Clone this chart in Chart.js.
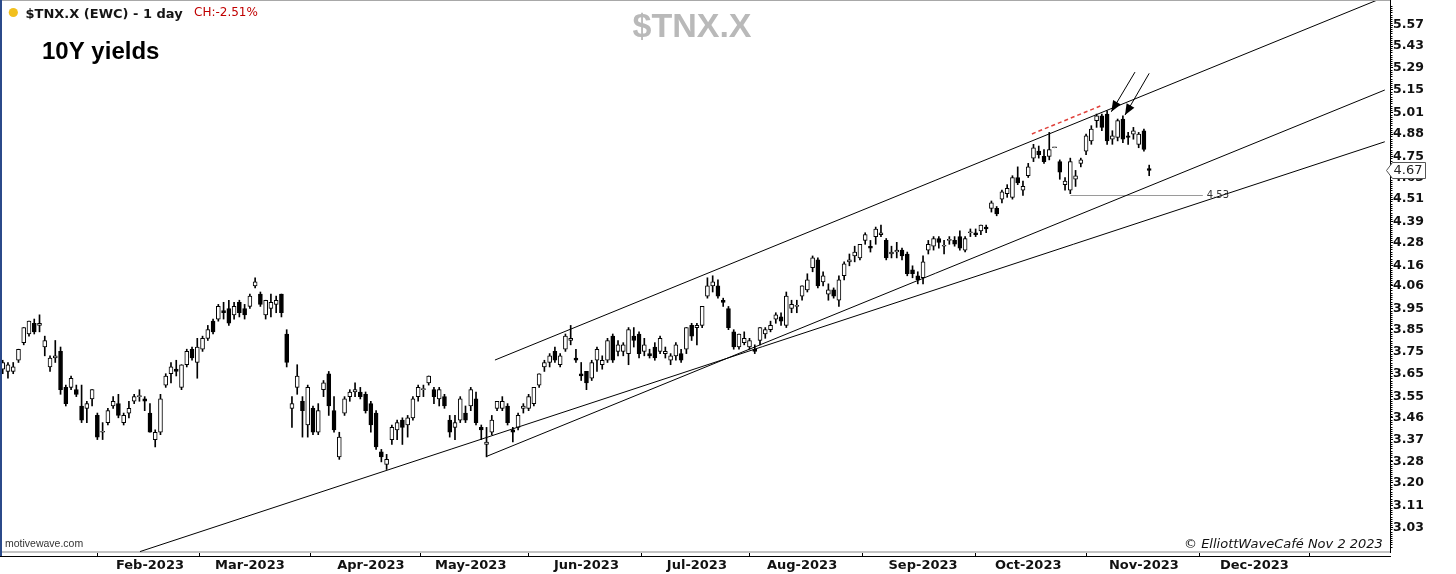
<!DOCTYPE html>
<html><head><meta charset="utf-8">
<script src="https://cdn.jsdelivr.net/npm/chart.js@4.4.1/dist/chart.umd.min.js"></script>
<style>html,body{margin:0;padding:0;background:#fff;overflow:hidden}#wrap{width:1456px;height:574px;position:relative}</style>
</head><body><div id="wrap"><canvas id="c" width="1456" height="574"></canvas></div>
<script>
// Daily $TNX.X candles, trading days from 2022-12-20 to 2023-11-02 (x = trading-day index)
const opens = [
3.67,3.66,3.66,3.71,3.79,3.83,3.88,3.87,
3.77,3.68,3.72,3.75,3.59,3.59,3.58,3.51,3.50,3.54,3.47,3.40,3.44,3.51,3.52,3.44,3.48,3.53,3.55,3.54,
3.48,3.37,3.40,3.60,3.65,3.67,3.59,3.69,3.76,3.70,3.76,3.81,3.89,3.90,3.94,3.95,3.92,3.98,3.95,
3.96,4.06,4.02,3.92,3.95,3.97,4.02,3.83,3.50,3.59,3.53,3.43,3.50,3.40,3.58,3.65,3.49,3.30,3.48,3.55,3.57,3.57,3.56,
3.52,3.48,3.32,3.27,3.37,3.41,3.45,3.43,3.46,3.55,3.58,3.61,3.58,3.54,3.55,3.45,3.42,3.45,3.48,
3.51,3.54,3.42,3.35,3.40,3.50,3.50,3.51,3.41,3.42,3.50,3.50,3.52,3.60,3.68,3.70,3.75,3.69,3.76,3.80,3.72,3.65,
3.66,3.63,3.71,3.69,3.71,3.82,3.75,3.75,3.74,3.82,3.83,3.75,3.74,3.77,3.75,3.74,3.71,3.73,3.74,3.76,3.87,
3.86,3.87,4.01,4.06,4.06,3.99,3.95,3.84,3.77,3.79,3.77,3.76,3.80,3.83,3.85,3.90,3.91,3.87,3.95,3.96,
4.01,4.04,4.15,4.19,4.08,4.02,4.04,3.99,4.11,4.18,4.21,4.20,4.29,4.26,4.31,4.32,4.29,4.22,4.23,4.24,4.22,4.14,4.11,
4.10,4.24,4.26,4.30,4.26,4.29,4.29,4.31,4.24,4.33,4.33,4.34,4.36,4.46,4.46,4.51,4.54,4.52,4.63,4.56,
4.64,4.74,4.78,4.75,4.75,4.80,4.72,4.59,4.56,4.62,4.71,4.78,4.84,4.96,4.99,5.00,4.85,4.86,4.97,4.87,4.88,4.82,
4.90,4.68];
const highs = [
3.71,3.70,3.70,3.76,3.86,3.89,3.90,3.92,
3.82,3.73,3.80,3.77,3.60,3.64,3.60,3.60,3.53,3.58,3.48,3.44,3.50,3.55,3.56,3.48,3.53,3.56,3.58,3.55,
3.52,3.41,3.56,3.65,3.70,3.71,3.69,3.76,3.77,3.81,3.82,3.87,3.90,3.97,3.98,3.99,3.98,3.99,3.97,
4.02,4.10,4.03,3.99,4.02,4.01,4.02,3.85,3.55,3.69,3.55,3.60,3.51,3.52,3.62,3.66,3.55,3.40,3.55,3.58,3.61,3.59,3.57,
3.53,3.49,3.33,3.31,3.43,3.45,3.46,3.47,3.55,3.60,3.60,3.64,3.59,3.59,3.56,3.47,3.47,3.55,3.51,
3.59,3.57,3.43,3.42,3.47,3.53,3.55,3.52,3.42,3.48,3.52,3.56,3.59,3.65,3.71,3.74,3.77,3.74,3.83,3.87,3.76,3.70,
3.66,3.71,3.77,3.73,3.81,3.83,3.80,3.79,3.86,3.86,3.84,3.81,3.76,3.79,3.82,3.77,3.74,3.79,3.76,3.86,3.88,
3.88,3.96,4.10,4.11,4.09,4.00,3.96,3.85,3.83,3.84,3.81,3.78,3.86,3.86,3.89,3.93,3.93,4.03,3.99,3.99,
4.06,4.12,4.21,4.20,4.13,4.07,4.05,4.11,4.18,4.22,4.26,4.27,4.33,4.29,4.36,4.37,4.30,4.26,4.28,4.25,4.23,4.16,4.13,
4.21,4.29,4.31,4.31,4.29,4.31,4.31,4.34,4.31,4.35,4.35,4.37,4.37,4.50,4.47,4.56,4.59,4.64,4.69,4.61,
4.71,4.82,4.81,4.79,4.89,4.80,4.73,4.63,4.74,4.67,4.74,4.88,4.93,5.00,5.00,5.02,4.90,4.97,4.99,4.89,4.92,4.89,
4.91,4.70];
const lows = [
3.65,3.63,3.65,3.70,3.78,3.82,3.83,3.84,
3.73,3.66,3.70,3.56,3.51,3.58,3.55,3.44,3.44,3.51,3.37,3.37,3.43,3.50,3.46,3.43,3.46,3.52,3.53,3.49,
3.40,3.34,3.39,3.59,3.61,3.64,3.58,3.68,3.71,3.63,3.75,3.80,3.83,3.89,3.90,3.87,3.90,3.91,3.90,
3.95,4.05,3.96,3.90,3.91,3.93,3.91,3.68,3.42,3.56,3.38,3.38,3.39,3.39,3.55,3.47,3.40,3.29,3.47,3.53,3.55,3.54,3.48,
3.40,3.33,3.28,3.25,3.35,3.37,3.35,3.38,3.45,3.53,3.55,3.60,3.52,3.51,3.50,3.38,3.37,3.44,3.44,
3.49,3.43,3.37,3.30,3.39,3.49,3.49,3.43,3.36,3.41,3.48,3.49,3.51,3.59,3.66,3.68,3.70,3.68,3.75,3.78,3.70,3.62,
3.58,3.62,3.66,3.67,3.70,3.70,3.73,3.73,3.69,3.77,3.72,3.73,3.72,3.71,3.74,3.72,3.69,3.71,3.70,3.74,3.80,
3.78,3.86,4.00,4.03,4.00,3.96,3.85,3.76,3.76,3.78,3.76,3.74,3.78,3.81,3.84,3.88,3.87,3.86,3.93,3.93,
3.99,4.03,4.13,4.05,4.06,3.99,4.00,3.96,4.09,4.16,4.18,4.19,4.27,4.23,4.27,4.31,4.19,4.20,4.20,4.19,4.11,4.10,4.07,
4.07,4.22,4.24,4.25,4.22,4.27,4.26,4.24,4.23,4.31,4.31,4.32,4.33,4.44,4.42,4.49,4.52,4.51,4.59,4.53,
4.63,4.72,4.74,4.71,4.73,4.80,4.62,4.56,4.54,4.58,4.69,4.76,4.82,4.92,4.90,4.82,4.82,4.84,4.83,4.82,4.85,4.80,
4.78,4.64];
const closes = [
3.70,3.69,3.68,3.76,3.86,3.89,3.84,3.88,
3.80,3.72,3.73,3.58,3.52,3.63,3.56,3.45,3.52,3.58,3.38,3.40,3.49,3.53,3.47,3.47,3.50,3.55,3.55,3.53,
3.40,3.40,3.54,3.64,3.68,3.66,3.69,3.75,3.72,3.77,3.81,3.85,3.84,3.96,3.93,3.88,3.96,3.93,3.92,
4.01,4.08,3.97,3.99,3.98,3.99,3.93,3.70,3.52,3.64,3.49,3.59,3.40,3.49,3.61,3.51,3.41,3.38,3.54,3.57,3.58,3.55,3.49,
3.43,3.34,3.30,3.29,3.42,3.44,3.42,3.46,3.54,3.59,3.58,3.64,3.55,3.58,3.51,3.40,3.44,3.54,3.45,
3.58,3.44,3.41,3.36,3.45,3.53,3.53,3.44,3.40,3.47,3.51,3.55,3.59,3.65,3.70,3.73,3.71,3.73,3.82,3.81,3.71,3.64,
3.61,3.70,3.76,3.71,3.80,3.71,3.78,3.78,3.85,3.80,3.74,3.78,3.73,3.72,3.81,3.75,3.73,3.78,3.71,3.86,3.82,
3.87,3.96,4.06,4.08,4.01,3.98,3.86,3.77,3.83,3.81,3.80,3.75,3.86,3.85,3.87,3.92,3.89,4.01,3.97,3.96,
4.06,4.09,4.20,4.06,4.11,4.04,4.01,4.09,4.17,4.19,4.23,4.27,4.32,4.25,4.35,4.33,4.20,4.23,4.24,4.21,4.12,4.12,4.09,
4.18,4.27,4.30,4.28,4.26,4.29,4.27,4.25,4.30,4.33,4.32,4.37,4.35,4.49,4.43,4.55,4.57,4.63,4.60,4.58,
4.69,4.80,4.76,4.72,4.79,4.80,4.66,4.61,4.72,4.64,4.73,4.87,4.91,4.99,4.92,4.84,4.87,4.96,4.85,4.86,4.90,4.88,
4.79,4.67];

// x-axis month ticks (trading-day index of first session of each month)
const monthTickIdx = [8, 28, 47, 70, 89, 111, 132, 152, 175, 195, 217, 238];
const monthLabels  = ['', 'Feb-2023', 'Mar-2023', 'Apr-2023', 'May-2023', 'Jun-2023', 'Jul-2023', 'Aug-2023', 'Sep-2023', 'Oct-2023', 'Nov-2023', 'Dec-2023'];
// y-axis ticks (log scale)
const yTickVals   = [3.03, 3.11, 3.20, 3.28, 3.37, 3.46, 3.55, 3.65, 3.75, 3.85, 3.95, 4.06, 4.16, 4.28, 4.39, 4.51, 4.63, 4.75, 4.88, 5.01, 5.15, 5.29, 5.43, 5.57];
const yTickLabels = ['3.03','3.11','3.20','3.28','3.37','3.46','3.55','3.65','3.75','3.85','3.95','4.06','4.16','4.28','4.39','4.51','4.63','4.75','4.88','5.01','5.15','5.29','5.43','5.57'];

// drawn trend lines: [index, value] endpoints
const channelTop    = [[93.6, 3.711], [261.3, 5.74]];
const channelBottom = [[91.9, 3.301], [262.8, 5.148]];
const longSupport   = [[26.1, 2.942], [262.8, 4.835]];
const redDashed     = [[195.7, 4.881], [208.7, 5.049]];
const arrow1        = [[215.3, 5.261], [210.8, 5.014]];
const arrow2        = [[218.0, 5.253], [213.4, 4.994]];
const level453      = [[203, 4.53], [228.2, 4.53]];
const level453Label = '4.53';

const xMin = -0.513, xMax = 263.79;
const yMin = 2.9406, yMax = 5.7414;

const pts = a => a.map(p => ({x: p[0], y: p[1]}));
const lineDs = (arr, color, width, dash) => ({
  type: 'line', data: pts(arr), borderColor: color, borderWidth: width,
  borderDash: dash || [], pointRadius: 0, fill: false, tension: 0, order: 0
});

const decor = {
  id: 'decor',
  beforeDraw(chart) {
    const c = chart.ctx;
    c.save(); c.fillStyle = '#fff'; c.fillRect(0, 0, chart.width, chart.height); c.restore();
  },
  afterDraw(chart) {
    const c = chart.ctx, ca = chart.chartArea, xs = chart.scales.x, ys = chart.scales.y;
    c.save();
    // frame
    c.fillStyle = '#a8a8a8'; c.fillRect(0, 0, ca.right, 1);
    c.fillStyle = '#2b4a8a'; c.fillRect(0, 0, 2, 556);
    c.fillStyle = '#000'; c.fillRect(0, 556, ca.right + 1, 1);
    // minor ticks on y axis
    c.strokeStyle = '#000'; c.lineWidth = 1;
    const minor = [];
    for (let k = 0; k < yTickVals.length - 1; k++) {
      const a = yTickVals[k], b = yTickVals[k + 1];
      for (let j = 1; j < 10; j++) minor.push(a * Math.pow(b / a, j / 10));
    }
    const rTop = yTickVals[yTickVals.length - 1] / yTickVals[yTickVals.length - 2];
    for (let j = 1; j < 10; j++) minor.push(yTickVals[yTickVals.length - 1] * Math.pow(rTop, j / 10));
    const rBot = yTickVals[1] / yTickVals[0];
    for (let j = 1; j < 10; j++) minor.push(yTickVals[0] / Math.pow(rBot, j / 10));
    c.beginPath();
    minor.forEach(v => {
      const py = Math.round(ys.getPixelForValue(v)) + 0.5;
      if (py < 1 || py > 555) return;
      c.moveTo(ca.right, py); c.lineTo(ca.right + 2.5, py);
    });
    c.stroke();
    // arrowheads
    [arrow1, arrow2].forEach(a => {
      const x0 = xs.getPixelForValue(a[0][0]), y0 = ys.getPixelForValue(a[0][1]);
      const x1 = xs.getPixelForValue(a[1][0]), y1 = ys.getPixelForValue(a[1][1]);
      const ang = Math.atan2(y1 - y0, x1 - x0), L = 11, W = 4.5;
      const bx = x1 - L * Math.cos(ang), by = y1 - L * Math.sin(ang);
      c.fillStyle = '#000'; c.beginPath();
      c.moveTo(x1, y1);
      c.lineTo(bx + W * Math.sin(ang), by - W * Math.cos(ang));
      c.lineTo(bx - W * Math.sin(ang), by + W * Math.cos(ang));
      c.closePath(); c.fill();
    });
    // 4.53 label
    c.font = '10px "DejaVu Sans"'; c.fillStyle = '#333'; c.textBaseline = 'middle'; c.textAlign = 'left';
    c.fillText(level453Label, xs.getPixelForValue(level453[1][0]) + 4, ys.getPixelForValue(level453[1][1]));
    // last price box
    const last = closes[closes.length - 1];
    const py = Math.round(ys.getPixelForValue(last));
    c.beginPath();
    c.moveTo(ca.right - 3.5, py + 0.5);
    c.lineTo(ca.right + 2.5, py - 7.5);
    c.lineTo(ca.right + 35.5, py - 7.5);
    c.lineTo(ca.right + 35.5, py + 8.5);
    c.lineTo(ca.right + 2.5, py + 8.5);
    c.closePath();
    c.fillStyle = '#fff'; c.fill(); c.strokeStyle = '#555'; c.lineWidth = 1; c.stroke();
    c.font = '13px "DejaVu Sans"'; c.fillStyle = '#222'; c.textBaseline = 'middle';
    c.fillText(last.toFixed(2), ca.right + 3.5, py + 1);
    // texts
    c.textBaseline = 'alphabetic';
    c.font = 'bold 34px "Liberation Sans"'; c.fillStyle = '#b9b9b9'; c.textAlign = 'center';
    c.fillText('$TNX.X', 692, 37);
    c.textAlign = 'left';
    c.fillStyle = '#f2c01e'; c.beginPath(); c.arc(13.3, 12.5, 4.6, 0, Math.PI * 2); c.fill();
    c.font = 'bold 13px "DejaVu Sans"'; c.fillStyle = '#151515';
    c.fillText('$TNX.X (EWC) - 1 day', 25.5, 18.3);
    c.font = '12px "DejaVu Sans"'; c.fillStyle = '#c00000';
    c.fillText('CH:-2.51%', 194, 15.8);
    c.font = 'bold 24px "Liberation Sans"'; c.fillStyle = '#000';
    c.fillText('10Y yields', 42, 59.3);
    c.font = '10.5px "Liberation Sans"'; c.fillStyle = '#333';
    c.fillText('motivewave.com', 5, 547);
    c.font = 'italic 13px "DejaVu Sans"'; c.fillStyle = '#111';
    c.fillText('\u00A9 ElliottWaveCaf\u00E9 Nov 2 2023', 1184, 547.7);
    c.restore();
  }
};

const idx = opens.map((o, i) => i);
new Chart(document.getElementById('c'), {
  type: 'bar',
  data: {
    datasets: [
      {
        type: 'bar', data: idx.map(i => ({x: i, y: [opens[i], closes[i]]})),
        backgroundColor: ctx => (closes[ctx.dataIndex] >= opens[ctx.dataIndex] ? '#ffffff' : '#000000'),
        borderColor: '#000', borderWidth: 1, borderSkipped: false,
        barThickness: 4, grouped: false, minBarLength: 1, order: 1
      },
      {
        type: 'bar', data: idx.map(i => ({x: i, y: [lows[i], highs[i]]})),
        backgroundColor: '#000', borderWidth: 0, barThickness: 1, grouped: false, order: 2
      },
      lineDs(channelTop, '#000', 1),
      lineDs(channelBottom, '#000', 1),
      lineDs(longSupport, '#000', 1),
      lineDs(redDashed, '#e0403a', 1.5, [4, 3]),
      lineDs(arrow1, '#000', 1),
      lineDs(arrow2, '#000', 1),
      lineDs(level453, '#9a9a9a', 1)
    ]
  },
  options: {
    responsive: false, animation: false, devicePixelRatio: 1, events: [],
    layout: {padding: 0},
    plugins: {legend: {display: false}, tooltip: {enabled: false}, title: {display: false}},
    scales: {
      x: {
        type: 'linear', min: xMin, max: xMax, offset: false, bounds: 'data',
        afterBuildTicks: s => { s.ticks = monthTickIdx.map(v => ({value: v})); },
        afterFit: s => { s.height = 22; s.paddingLeft = 0; s.paddingRight = 0; },
        ticks: {
          autoSkip: false, maxRotation: 0, padding: 2,
          callback: (v, i) => monthLabels[i],
          font: {family: "'DejaVu Sans'", weight: 'bold', size: 13}, color: '#111'
        },
        grid: {drawOnChartArea: false, drawTicks: true, tickLength: 4, tickColor: '#000', tickWidth: 1},
        border: {display: true, color: '#c4c4c4', width: 2}
      },
      y: {
        type: 'logarithmic', position: 'right', min: yMin, max: yMax, bounds: 'data',
        afterBuildTicks: s => { s.ticks = yTickVals.map(v => ({value: v})); },
        afterFit: s => { s.width = 66; s.paddingTop = 0; s.paddingBottom = 0; },
        ticks: {
          autoSkip: false, padding: 0,
          callback: (v, i) => yTickLabels[i],
          font: {family: "'DejaVu Sans'", weight: 'bold', size: 12.5}, color: '#111'
        },
        grid: {drawOnChartArea: false, drawTicks: true, tickLength: 3, tickColor: '#000', tickWidth: 1},
        border: {display: true, color: '#000', width: 1}
      }
    }
  },
  plugins: [decor]
});
</script>
</body></html>
